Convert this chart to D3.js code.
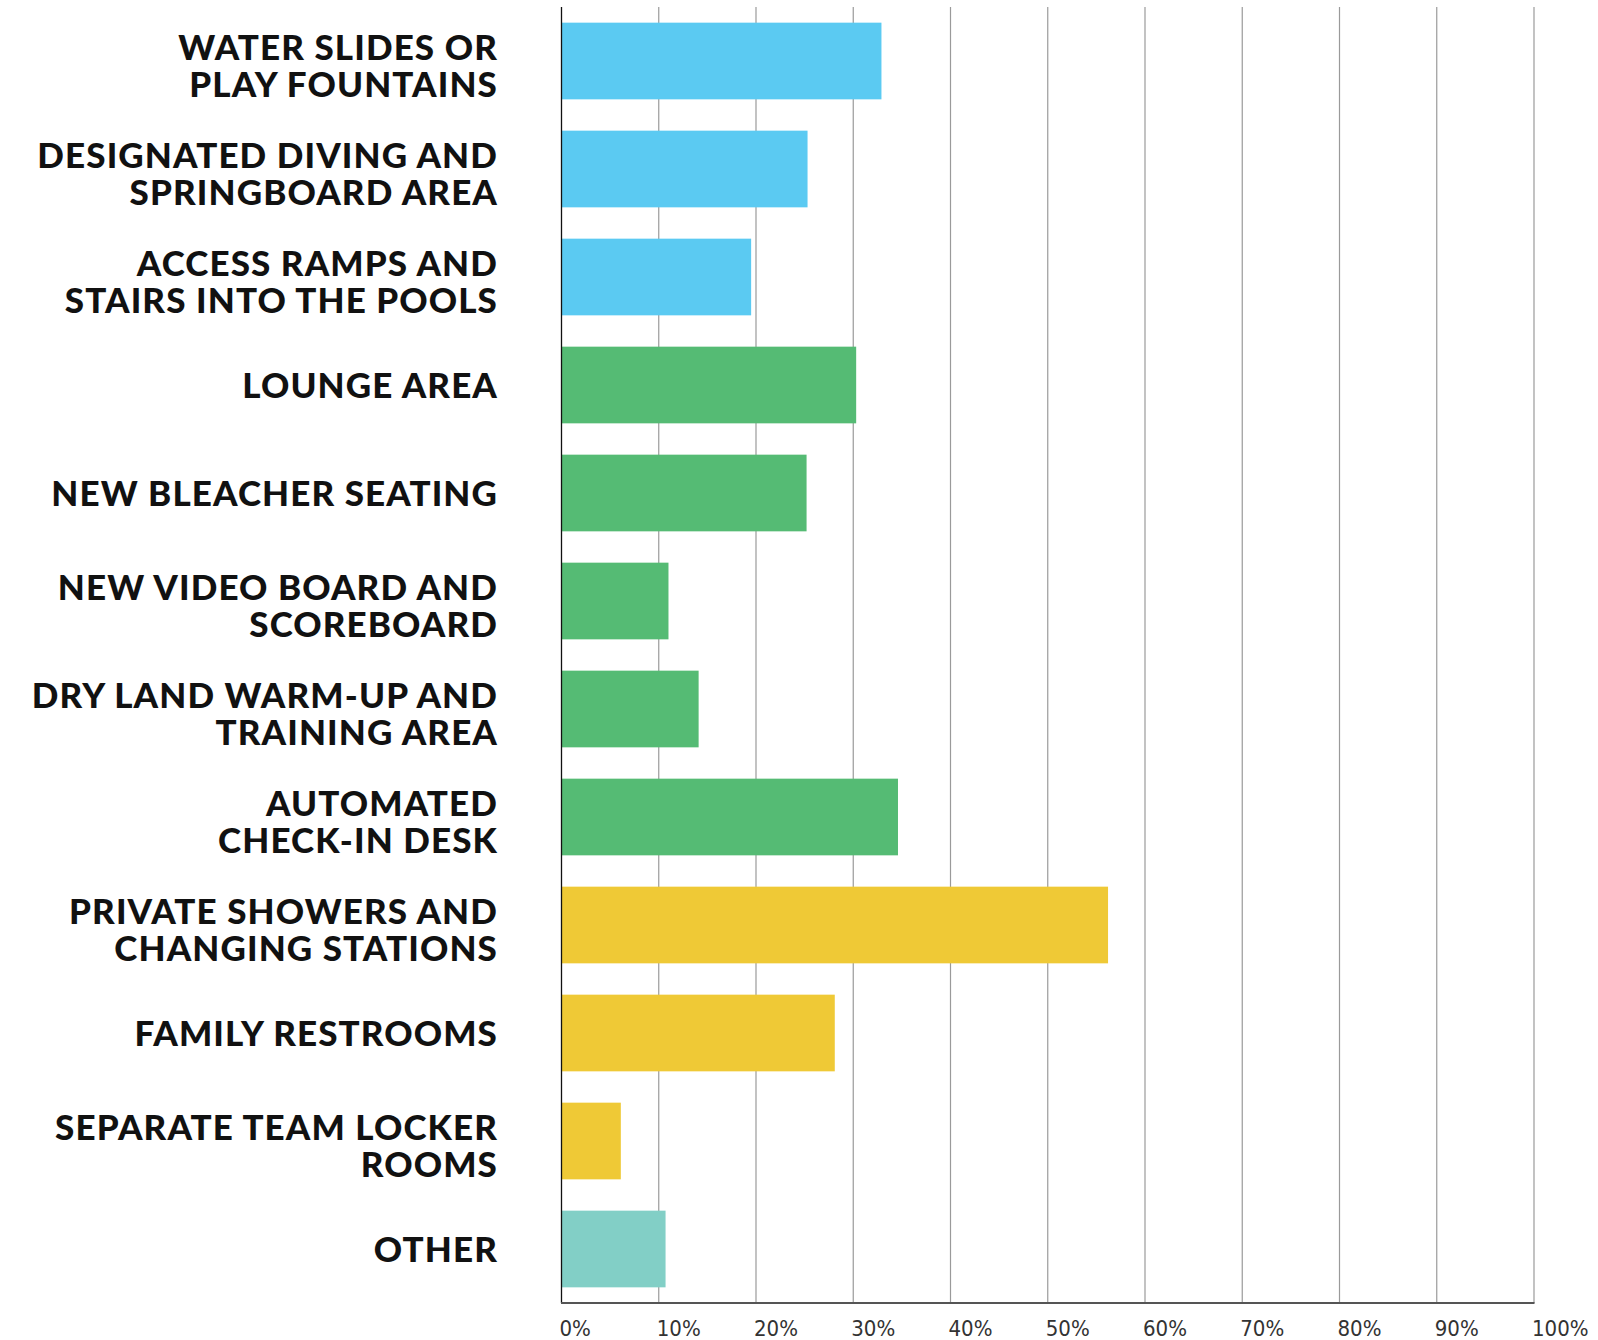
<!DOCTYPE html>
<html>
<head>
<meta charset="utf-8">
<script src="https://cdn.jsdelivr.net/npm/d3@7"></script>
<style>
	body { margin: 0; background: #fff; }
	.label { font-family: Lato, sans-serif; font-weight: 900; fill: #111; letter-spacing: 1.1px; }
	.tick-label { font-family: 'DejaVu Sans Condensed', 'DejaVu Sans', sans-serif; fill: #333; }
</style>
</head>
<body>
<div id="chart"></div>
<script>
// data
var categories = [
	['WATER SLIDES OR', 'PLAY FOUNTAINS'],
	['DESIGNATED DIVING AND', 'SPRINGBOARD AREA'],
	['ACCESS RAMPS AND', 'STAIRS INTO THE POOLS'],
	['LOUNGE AREA'],
	['NEW BLEACHER SEATING'],
	['NEW VIDEO BOARD AND', 'SCOREBOARD'],
	['DRY LAND WARM-UP AND', 'TRAINING AREA'],
	['AUTOMATED', 'CHECK-IN DESK'],
	['PRIVATE SHOWERS AND', 'CHANGING STATIONS'],
	['FAMILY RESTROOMS'],
	['SEPARATE TEAM LOCKER', 'ROOMS'],
	['OTHER']
];
var values = [32.9, 25.3, 19.5, 30.3, 25.2, 11.0, 14.1, 34.6, 56.2, 28.1, 6.1, 10.7];
var groups = ['pool', 'pool', 'pool', 'venue', 'venue', 'venue', 'venue', 'venue', 'locker', 'locker', 'locker', 'other'];
var tickValues = [0, 10, 20, 30, 40, 50, 60, 70, 80, 90, 100];

var colors = {
	pool: '#5bcaf2',
	venue: '#55bb74',
	locker: '#efc936',
	other: '#82cfc6'
};

// build canvas
var width = 1598,
	height = 1340;

var svg = d3.select('#chart')
			.append('svg')
			.attr('width', width)
			.attr('height', height);

var margin = { left: 561.5, right: 64, top: 7, bottom: 37 };

var x = d3.scaleLinear()
		.domain([0, 100])
		.range([margin.left, width - margin.right]);

var y = d3.scaleBand()
		.domain(d3.range(categories.length))
		.range([margin.top, height - margin.bottom])
		.paddingInner(0.29)
		.paddingOuter(0.145);

// gridlines
svg.append('g')
	.selectAll('line')
	.data(tickValues.slice(1)).enter()
	.append('line')
	.attr('x1', d => x(d))
	.attr('x2', d => x(d))
	.attr('y1', margin.top)
	.attr('y2', height - margin.bottom)
	.attr('stroke', '#9a9a9a')
	.attr('stroke-width', 1.2);

// bars
svg.append('g')
	.selectAll('rect')
	.data(values).enter()
	.append('rect')
	.attr('x', x(0))
	.attr('y', (d, i) => y(i))
	.attr('width', d => x(d) - x(0))
	.attr('height', y.bandwidth())
	.attr('fill', (d, i) => colors[groups[i]]);

// axis lines
svg.append('line')
	.attr('x1', x(0)).attr('x2', x(0))
	.attr('y1', margin.top).attr('y2', height - margin.bottom)
	.attr('stroke', '#111')
	.attr('stroke-width', 1.3);

svg.append('line')
	.attr('x1', x(0) - 0.5).attr('x2', x(100) + 0.5)
	.attr('y1', height - margin.bottom).attr('y2', height - margin.bottom)
	.attr('stroke', '#555')
	.attr('stroke-width', 2);

// tick labels
svg.append('g')
	.selectAll('text')
	.data(tickValues).enter()
	.append('text')
	.attr('class', 'tick-label')
	.attr('x', d => x(d) - 2)
	.attr('y', height - 4)
	.attr('font-size', 22)
	.text(d => d + '%');

// category labels
var labelX = 498,
	lineHeight = 36.5;

var labels = svg.append('g')
	.selectAll('text')
	.data(categories).enter()
	.append('text')
	.attr('class', 'label')
	.attr('text-anchor', 'end')
	.attr('font-size', 35)
	.attr('y', (d, i) => y(i) + y.bandwidth() / 2 + (categories[i].length > 1 ? 5 : 0));

labels.selectAll('tspan')
	.data(d => d.map((t, j) => ({ t: t, j: j, n: d.length }))).enter()
	.append('tspan')
	.attr('x', labelX)
	.attr('dy', d => d.j === 0 ? ((-(d.n - 1) / 2) * lineHeight + 12.5) : lineHeight)
	.text(d => d.t);
</script>
</body>
</html>
